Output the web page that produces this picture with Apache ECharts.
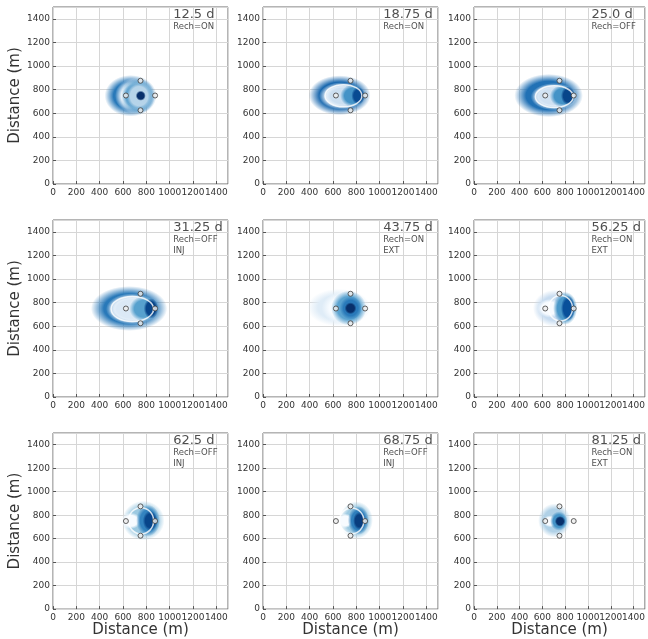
<!DOCTYPE html>
<html>
<head>
<meta charset="utf-8">
<script src="https://cdn.jsdelivr.net/npm/echarts@6/dist/echarts.min.js"></script>
<style>
  html, body { margin: 0; background: #fff; }
  #chart { width: 648px; height: 639px; }
</style>
</head>
<body>
<div id="chart"></div>
<script>
// panel captions
var panelTimes = ['12.5 d', '18.75 d', '25.0 d', '31.25 d', '43.75 d', '56.25 d', '62.5 d', '68.75 d', '81.25 d'];
var panelRech = ['Rech=ON', 'Rech=ON', 'Rech=OFF', 'Rech=OFF', 'Rech=ON', 'Rech=ON', 'Rech=OFF', 'Rech=OFF', 'Rech=ON'];
var panelMode = ['', '', '', 'INJ', 'EXT', 'EXT', 'INJ', 'INJ', 'EXT'];
var captionX = 1030;
var captionY = [1432, 1331, 1237];

// observation wells (m)
var wellX = [625, 750, 875, 750];
var wellY = [750, 875, 750, 625];

// plume blobs: [x, y, radiusX, radiusY, relative concentration]
var plume1 = [[665, 748, 185, 146, 0.72], [700, 748, 140, 124, 0.0], [728, 745, 120, 124, 0.62], [738, 745, 95, 102, 0.3], [752, 748, 36, 36, 1.0]];
var plume2 = [[657, 752, 220, 140, 0.78], [672, 746, 160, 97, 0.0], [690, 746, 142, 84, 0.22], [770, 748, 90, 80, 0.62], [815, 748, 48, 62, 0.9]];
var plume3 = [[655, 750, 250, 152, 0.75], [702, 740, 170, 96, 0.0], [702, 742, 154, 84, 0.2], [780, 745, 95, 80, 0.62], [825, 748, 52, 66, 0.92]];
var plume4 = [[652, 750, 272, 158, 0.72], [678, 746, 186, 110, 0.0], [682, 746, 172, 99, 0.14], [780, 748, 104, 90, 0.56], [840, 750, 52, 72, 0.92]];
var plume5 = [[650, 758, 225, 132, 0.12], [690, 755, 155, 114, 0.0], [735, 754, 125, 122, 0.55], [752, 754, 78, 82, 0.72], [750, 752, 42, 42, 1.0]];
var plume6 = [[710, 752, 160, 130, 0.24], [665, 752, 90, 66, 0.0], [800, 752, 88, 116, 0.6], [825, 752, 52, 90, 0.88]];
var plume7 = [[775, 754, 150, 140, 0.38], [668, 752, 72, 58, 0.0], [815, 754, 85, 112, 0.68], [832, 752, 52, 72, 0.92]];
var plume8 = [[800, 758, 118, 132, 0.38], [705, 752, 55, 52, 0.0], [818, 755, 75, 102, 0.7], [825, 752, 44, 64, 0.95]];
var plume9 = [[705, 755, 118, 120, 0.32], [668, 748, 52, 42, 0.0], [745, 750, 64, 68, 0.62], [755, 748, 38, 38, 1.0]];
var plumes = [plume1, plume2, plume3, plume4, plume5, plume6, plume7, plume8, plume9];

// thin white contour rings: [x, y, radiusX, radiusY]
var rings = [[], [[690, 748, 158, 94]], [[705, 740, 166, 92]], [[680, 746, 182, 106]], [], [[760, 752, 105, 108]], [[755, 752, 108, 112]], [[760, 752, 105, 110]], []];

var gridLeft = [53, 263, 474];
var gridTop = [7, 220, 433];
var font = 'DejaVu Sans';

var bluesStops = ['#f7fbff', '#deebf7', '#c6dbef', '#9ecae1', '#6baed6', '#4292c6', '#2171b5', '#08519c', '#08306b'];
function hexRgb(h) {
  return [parseInt(h.substr(1, 2), 16), parseInt(h.substr(3, 2), 16), parseInt(h.substr(5, 2), 16)];
}
function blues(t) {
  t = Math.max(0, Math.min(1, t));
  var p = t * 8, i = Math.min(7, Math.floor(p)), f = p - i;
  var a = hexRgb(bluesStops[i]), b = hexRgb(bluesStops[i + 1]);
  return [0, 1, 2].map(function (k) { return Math.round(a[k] + (b[k] - a[k]) * f); });
}

// soft-edged ellipse: the listed radius is where the blob fades to half strength
function plumeItem(params, api) {
  var c = api.coord([api.value(0), api.value(1)]);
  var s = api.size([api.value(2), api.value(3)]);
  var rgb = blues(api.value(4)).join(',');
  return {
    type: 'circle',
    x: c[0], y: c[1], scaleX: s[0] / 0.83, scaleY: s[1] / 0.83,
    shape: { cx: 0, cy: 0, r: 1 },
    style: {
      fill: {
        type: 'radial', x: 0.5, y: 0.5, r: 0.5,
        colorStops: [
          { offset: 0, color: 'rgba(' + rgb + ',1)' },
          { offset: 0.66, color: 'rgba(' + rgb + ',1)' },
          { offset: 1, color: 'rgba(' + rgb + ',0)' }
        ]
      }
    },
    silent: true
  };
}

function ringItem(params, api) {
  var c = api.coord([api.value(0), api.value(1)]);
  var s = api.size([api.value(2), api.value(3)]);
  return {
    type: 'ellipse',
    shape: { cx: c[0], cy: c[1], rx: s[0], ry: s[1] },
    style: { fill: 'none', stroke: 'rgba(255,255,255,0.8)', lineWidth: 1.5 },
    silent: true
  };
}

var grids = [], xAxes = [], yAxes = [], series = [];
for (var i = 0; i < 9; i++) {
  var row = Math.floor(i / 3), col = i % 3;
  grids.push({
    left: gridLeft[col], top: gridTop[row], width: 175, height: 177,
    show: true, borderColor: '#6a6a6a', borderWidth: 1, backgroundColor: '#fff'
  });
  var labelStyle = {
    fontSize: 9, color: '#333', fontFamily: font, showMaxLabel: false,
    formatter: function (v) { return String(v); }
  };
  xAxes.push({
    gridIndex: i, type: 'value', min: 0, max: 1500, interval: 200,
    name: row === 2 ? 'Distance (m)' : '', nameLocation: 'middle', nameGap: 11,
    nameTextStyle: { fontSize: 15, color: '#333', fontFamily: font },
    axisLine: { show: false },
    axisTick: { show: true, inside: true, length: 3, lineStyle: { color: '#555' } },
    axisLabel: Object.assign({ margin: 4 }, labelStyle),
    splitLine: { show: true, lineStyle: { color: '#d6d6d6', width: 1 } }
  });
  yAxes.push({
    gridIndex: i, type: 'value', min: 0, max: 1500, interval: 200,
    name: col === 0 ? 'Distance (m)' : '', nameLocation: 'middle', nameGap: 30,
    nameTextStyle: { fontSize: 15, color: '#333', fontFamily: font },
    axisLine: { show: false },
    axisTick: { show: true, inside: true, length: 3, lineStyle: { color: '#555' } },
    axisLabel: Object.assign({ margin: 3 }, labelStyle),
    splitLine: { show: true, lineStyle: { color: '#d6d6d6', width: 1 } }
  });

  series.push({
    type: 'custom', xAxisIndex: i, yAxisIndex: i, z: 2,
    renderItem: plumeItem, data: plumes[i], animation: false
  });
  series.push({
    type: 'custom', xAxisIndex: i, yAxisIndex: i, z: 3,
    renderItem: ringItem, data: rings[i], animation: false
  });
  series.push({
    type: 'scatter', xAxisIndex: i, yAxisIndex: i, z: 4,
    symbol: 'circle', symbolSize: 5,
    itemStyle: { color: '#eeeeee', borderColor: '#3c3c3c', borderWidth: 1 },
    data: wellX.map(function (x, k) { return [x, wellY[k]]; }),
    animation: false, silent: true
  });
  var lines = [panelTimes[i], panelRech[i], panelMode[i]];
  series.push({
    type: 'scatter', xAxisIndex: i, yAxisIndex: i, z: 5,
    symbolSize: 0, animation: false, silent: true,
    label: { show: true, position: 'right', distance: 0, formatter: '{b}', color: '#222', fontFamily: font },
    data: lines.map(function (t, k) {
      return { name: t, value: [captionX, captionY[k]], label: { fontSize: k === 0 ? 13 : 8.5 } };
    }).filter(function (d) { return d.name !== ''; })
  });
}

var chart = echarts.init(document.getElementById('chart'), null, { renderer: 'canvas' });
chart.setOption({
  backgroundColor: '#fff',
  animation: false,
  grid: grids,
  xAxis: xAxes,
  yAxis: yAxes,
  series: series
});
</script>
</body>
</html>
